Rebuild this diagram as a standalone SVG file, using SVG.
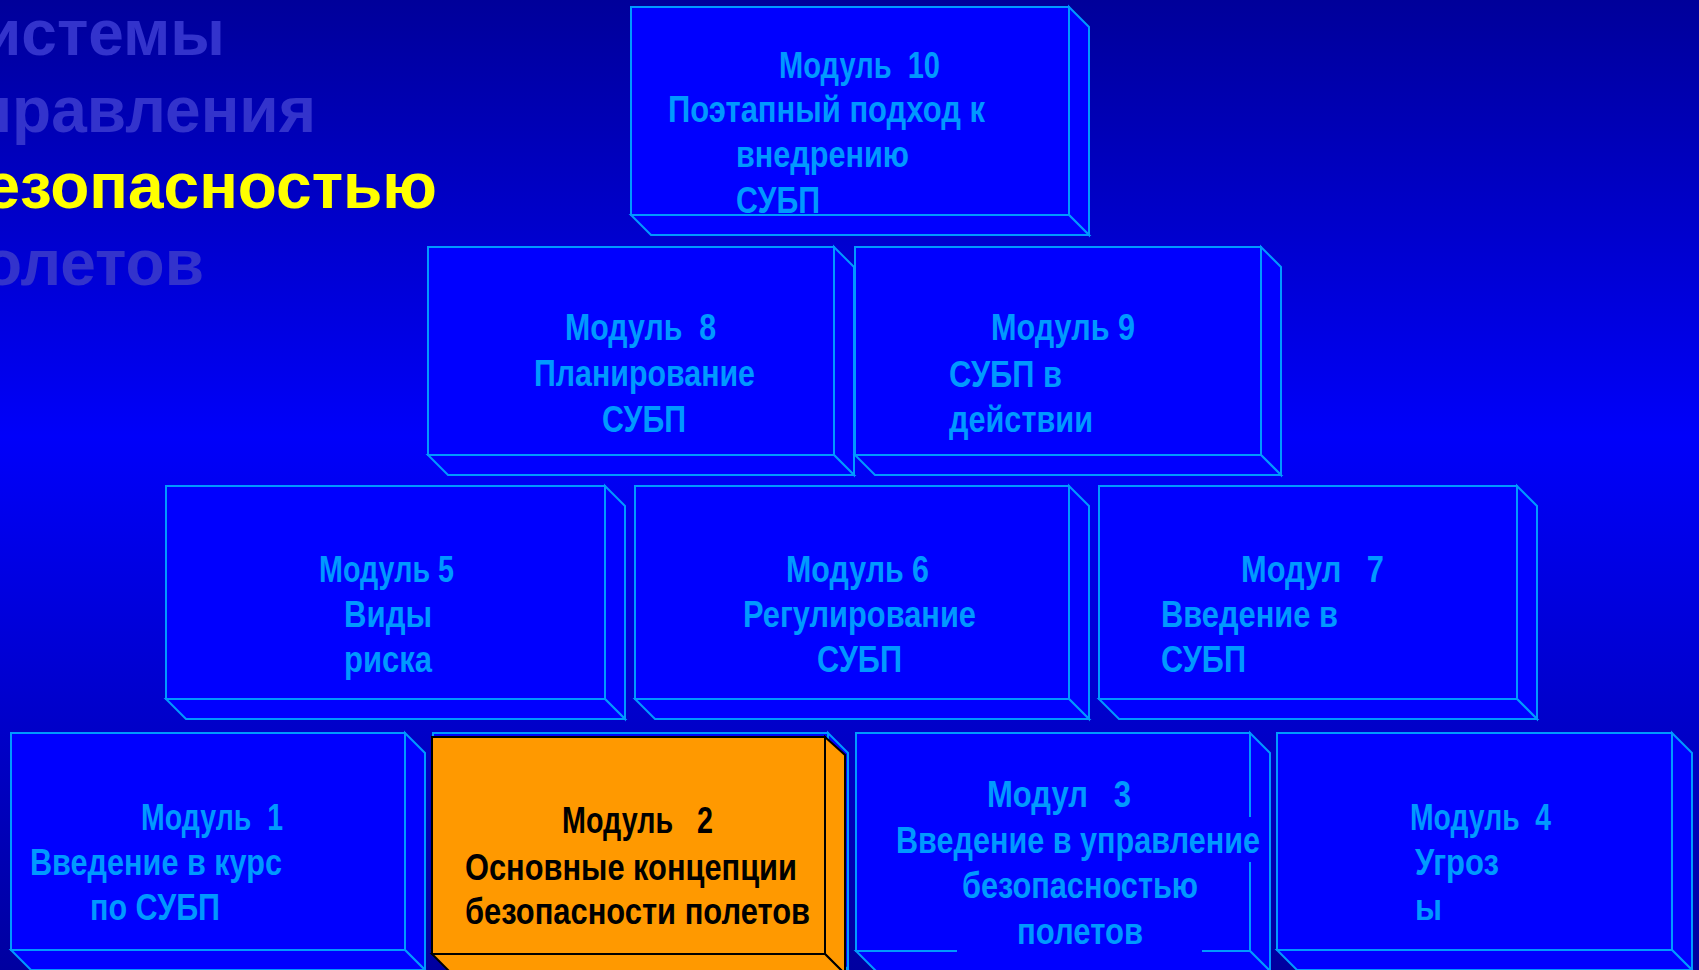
<svg xmlns="http://www.w3.org/2000/svg" width="1699" height="970" viewBox="0 0 1699 970">
<defs>
<linearGradient id="bg" x1="0" y1="0" x2="0" y2="1">
<stop offset="0" stop-color="#00009A"/>
<stop offset="0.45" stop-color="#0000FA"/>
<stop offset="1" stop-color="#0000A0"/>
</linearGradient>
</defs>
<style>
.face{fill:#0000FF;stroke:#0099FF;stroke-width:2;stroke-linejoin:miter}
.oface{fill:#FF9900;stroke:#000000;stroke-width:2}
.t{font-family:"Liberation Sans",Arial,sans-serif;font-weight:bold;font-size:36px;fill:#0099FF;white-space:pre}
.tb{fill:#000000}
.title{font-family:"Liberation Sans",Arial,sans-serif;font-weight:bold;font-size:64px;fill:#3333CC;text-anchor:end}
.hl{fill:#FFFF00}
</style>
<rect x="0" y="0" width="1699" height="970" fill="url(#bg)"/>
<g id="title">
<text class="title" x="225" y="55">истемы</text>
<text class="title" x="316" y="132">правления</text>
<text class="title hl" x="437" y="208">езопасностью</text>
<text class="title" x="204" y="285">олетов</text>
</g>
<g id="connectors"/>
<g id="module10">
<rect class="face" x="631" y="7" width="438" height="208"/>
<polygon class="face" points="1069,7 1089,27 1089,235 1069,215"/>
<polygon class="face" points="631,215 1069,215 1089,235 651,235"/>
<text class="t" x="779" y="78" textLength="161" lengthAdjust="spacingAndGlyphs">Модуль  10</text>
<text class="t" x="668" y="122" textLength="317" lengthAdjust="spacingAndGlyphs">Поэтапный подход к</text>
<text class="t" x="736" y="167" textLength="173" lengthAdjust="spacingAndGlyphs">внедрению</text>
<text class="t" x="736" y="213" textLength="84" lengthAdjust="spacingAndGlyphs">СУБП</text>
</g>
<g id="module8">
<rect class="face" x="428" y="247" width="406" height="208"/>
<polygon class="face" points="834,247 854,267 854,475 834,455"/>
<polygon class="face" points="428,455 834,455 854,475 448,475"/>
<text class="t" x="565" y="340" textLength="151" lengthAdjust="spacingAndGlyphs">Модуль  8</text>
<text class="t" x="534" y="386" textLength="221" lengthAdjust="spacingAndGlyphs">Планирование</text>
<text class="t" x="602" y="432" textLength="84" lengthAdjust="spacingAndGlyphs">СУБП</text>
</g>
<g id="module9">
<rect class="face" x="855" y="247" width="406" height="208"/>
<polygon class="face" points="1261,247 1281,267 1281,475 1261,455"/>
<polygon class="face" points="855,455 1261,455 1281,475 875,475"/>
<text class="t" x="991" y="340" textLength="144" lengthAdjust="spacingAndGlyphs">Модуль 9</text>
<text class="t" x="949" y="387" textLength="113" lengthAdjust="spacingAndGlyphs">СУБП в</text>
<text class="t" x="949" y="432" textLength="144" lengthAdjust="spacingAndGlyphs">действии</text>
</g>
<g id="module5">
<rect class="face" x="166" y="486" width="439" height="213"/>
<polygon class="face" points="605,486 625,506 625,719 605,699"/>
<polygon class="face" points="166,699 605,699 625,719 186,719"/>
<text class="t" x="319" y="582" textLength="135" lengthAdjust="spacingAndGlyphs">Модуль 5</text>
<text class="t" x="344" y="627" textLength="88" lengthAdjust="spacingAndGlyphs">Виды</text>
<text class="t" x="344" y="672" textLength="88" lengthAdjust="spacingAndGlyphs">риска</text>
</g>
<g id="module6">
<rect class="face" x="635" y="486" width="434" height="213"/>
<polygon class="face" points="1069,486 1089,506 1089,719 1069,699"/>
<polygon class="face" points="635,699 1069,699 1089,719 655,719"/>
<text class="t" x="786" y="582" textLength="143" lengthAdjust="spacingAndGlyphs">Модуль 6</text>
<text class="t" x="743" y="627" textLength="233" lengthAdjust="spacingAndGlyphs">Регулирование</text>
<text class="t" x="817" y="672" textLength="85" lengthAdjust="spacingAndGlyphs">СУБП</text>
</g>
<g id="module7">
<rect class="face" x="1099" y="486" width="418" height="213"/>
<polygon class="face" points="1517,486 1537,506 1537,719 1517,699"/>
<polygon class="face" points="1099,699 1517,699 1537,719 1119,719"/>
<text class="t" x="1241" y="582" textLength="143" lengthAdjust="spacingAndGlyphs">Модул   7</text>
<text class="t" x="1161" y="627" textLength="177" lengthAdjust="spacingAndGlyphs">Введение в</text>
<text class="t" x="1161" y="672" textLength="85" lengthAdjust="spacingAndGlyphs">СУБП</text>
</g>
<g id="module1">
<rect class="face" x="11" y="733" width="394" height="217"/>
<polygon class="face" points="405,733 425,753 425,970 405,950"/>
<polygon class="face" points="11,950 405,950 425,970 31,970"/>
<text class="t" x="141" y="830" textLength="142" lengthAdjust="spacingAndGlyphs">Модуль  1</text>
<text class="t" x="30" y="875" textLength="252" lengthAdjust="spacingAndGlyphs">Введение в курс</text>
<text class="t" x="90" y="920" textLength="130" lengthAdjust="spacingAndGlyphs">по СУБП</text>
</g>
<g id="module2">
<rect class="face" x="433" y="733" width="395" height="217"/>
<polygon class="face" points="828,733 848,753 848,970 828,950"/>
<polygon class="face" points="433,950 828,950 848,970 453,970"/>
<rect class="oface" x="432" y="737" width="393" height="217"/>
<polygon class="oface" points="825,737 845,755 845,974 825,954"/>
<polygon class="oface" points="432,954 825,954 845,974 452,974"/>
<text class="t tb" x="562" y="833" textLength="151" lengthAdjust="spacingAndGlyphs">Модуль   2</text>
<text class="t tb" x="465" y="880" textLength="332" lengthAdjust="spacingAndGlyphs">Основные концепции</text>
<text class="t tb" x="465" y="924" textLength="345" lengthAdjust="spacingAndGlyphs">безопасности полетов</text>
</g>
<g id="module3">
<rect class="face" x="856" y="733" width="394" height="218"/>
<polygon class="face" points="1250,733 1270,753 1270,971 1250,951"/>
<polygon class="face" points="856,951 1250,951 1270,971 876,971"/>
<rect x="1247" y="817" width="6" height="45" fill="#0000FF"/>
<rect x="957" y="948" width="245" height="6" fill="#0000FF"/>
<text class="t" x="987" y="807" textLength="144" lengthAdjust="spacingAndGlyphs">Модул   3</text>
<text class="t" x="896" y="853" textLength="364" lengthAdjust="spacingAndGlyphs">Введение в управление</text>
<text class="t" x="962" y="898" textLength="236" lengthAdjust="spacingAndGlyphs">безопасностью</text>
<text class="t" x="1017" y="944" textLength="126" lengthAdjust="spacingAndGlyphs">полетов</text>
</g>
<g id="module4">
<rect class="face" x="1277" y="733" width="395" height="217"/>
<polygon class="face" points="1672,733 1692,753 1692,970 1672,950"/>
<polygon class="face" points="1277,950 1672,950 1692,970 1297,970"/>
<text class="t" x="1410" y="830" textLength="141" lengthAdjust="spacingAndGlyphs">Модуль  4</text>
<text class="t" x="1415" y="875" textLength="84" lengthAdjust="spacingAndGlyphs">Угроз</text>
<text class="t" x="1415" y="920" textLength="27" lengthAdjust="spacingAndGlyphs">ы</text>
</g>
</svg>
